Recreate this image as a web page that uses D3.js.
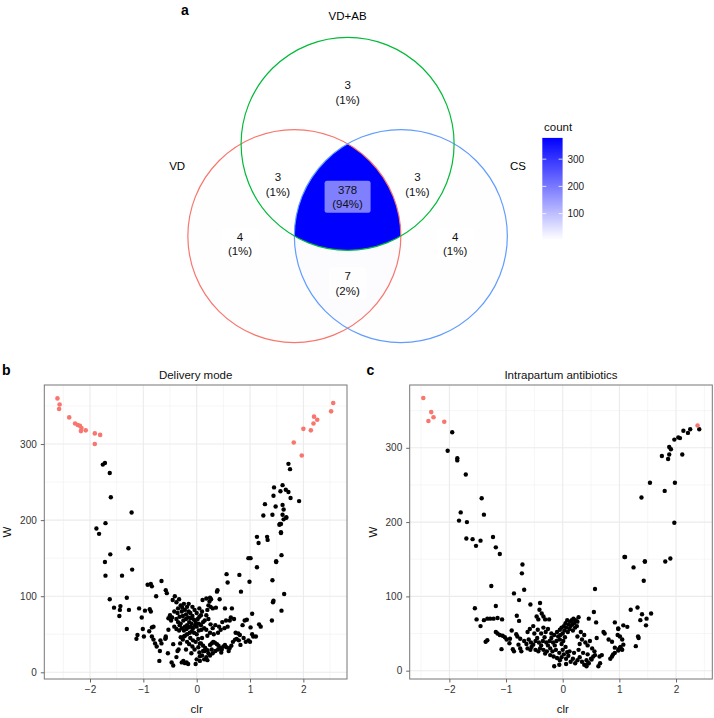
<!DOCTYPE html>
<html><head><meta charset="utf-8">
<script src="https://cdn.jsdelivr.net/npm/d3@7"></script>
<style>body{margin:0;background:#fff}svg{display:block;font-family:"Liberation Sans",Arial,Helvetica,sans-serif}</style>
</head><body>
<svg id="chart" width="714" height="718"></svg>
<script>
// ---------------- DATA ----------------
const vennSets = ["VD+AB", "VD", "CS"];
const regionSets = [["VD+AB"], ["VD"], ["CS"], ["VD","VD+AB"], ["VD+AB","CS"], ["VD","CS"], ["VD","VD+AB","CS"]];
const regionCounts = [3, 4, 4, 3, 3, 7, 378];
const regionPcts = ["1%", "1%", "1%", "1%", "1%", "2%", "94%"];
const legendTicks = [100, 200, 300];

const xTicks = [-2, -1, 0, 1, 2];
const yTicks = [0, 100, 200, 300];

// Panel b: Delivery mode  [clr, W]
const deliverySig = [[-2.61,360],[-2.57,352],[-2.58,346],[-2.39,335],[-2.28,327],[-2.23,325],[-2.19,324],[-2.16,321],[-2.17,317],[-2.08,318],[-1.91,314],[-1.81,312],[-1.91,300],
[2.56,354],[2.52,343],[2.20,336],[2.26,332],[2.19,327],[2.14,318],[2.00,320],[1.82,302],[1.97,285]];
const deliveryNs = [[-1.76,273],[-1.72,275],[-1.63,262],[-1.61,230],[-1.22,210],[-1.71,196],[-1.88,189],[-1.83,182],[-1.28,163],[-1.62,155],[-1.72,145],
[1.72,274],[1.75,267],[1.45,243],[1.61,246],[1.57,238],[1.67,240],[1.72,237],[1.76,229],[1.44,232],[1.92,225],[1.28,221],[1.48,218],[1.61,220],[1.63,214],[1.25,206],[1.42,207],[1.61,207],[1.68,203],[1.56,195],[1.58,183],[1.13,178],[1.16,170],[1.32,178],[1.33,174],[1.01,150],[1.49,146],[1.59,154],
[-1.71,127],[-1.40,127],[-1.21,135],[-1.63,96],[-1.55,85],[-1.31,98],[-1.43,87],[-1.44,82],[-1.45,74],[-1.27,82],[-1.31,57],[-1.08,84],[-1.03,72],[-0.97,81],[-0.88,83],[-0.86,80],[-1.01,57],[-0.99,47],[-1.11,49],[-1.13,44],[-0.92,115],[-0.86,116],[-0.84,113],[-0.66,120],[-0.76,100],[-0.58,108],[-0.56,104],[-0.41,100],[-0.84,59],[-0.81,60],[-0.89,54],[-0.84,47],[-0.81,43],[-0.78,38],[-0.75,34],[-0.68,42],[-0.66,38],[-0.58,47],[-0.59,44],[-0.69,28],[-0.70,15],[-0.54,25],[-0.44,37],[-0.47,13],[-0.44,9],[-0.28,13],[-0.22,12],[-0.16,11],[-0.36,28],[-0.31,38],[-0.24,47],[-0.02,11],[0.00,17],[0.06,21],[-0.53,56],[-0.58,45],[-0.38,20],[-0.34,30],[-0.25,15],[-0.19,13],
[-0.45,95],[-0.38,92],[-0.33,96],[-0.30,88],[-0.27,85],[-0.24,90],[-0.35,84],[-0.42,80],[-0.28,80],[-0.22,82],[-0.18,86],[-0.15,80],[-0.12,78],[-0.20,76],[-0.26,74],[-0.32,73],[-0.38,70],[-0.46,72],[-0.50,75],[-0.53,71],[-0.48,68],[-0.35,66],[-0.30,64],[-0.25,68],[-0.20,70],[-0.16,72],[-0.11,71],[-0.08,74],[-0.05,69],[-0.02,66],[0.02,70],[0.05,73],[0.08,75],[-0.14,66],[-0.10,64],[-0.18,62],[-0.22,60],[-0.28,58],[-0.33,55],[-0.38,57],[-0.42,60],[-0.24,55],[-0.19,57],[-0.15,59],[-0.11,60],[-0.07,58],[-0.03,62],[0.00,60],[0.04,64],[0.08,62],[0.12,66],[0.15,68],[-0.09,54],[-0.13,52],[-0.18,50],[-0.22,48],[-0.05,52],[0.00,50],[0.04,55],[0.09,56],[0.14,58],[0.18,56],[-0.30,46],[-0.26,43],[-0.12,45],[-0.07,42],[-0.02,40],[0.03,44],[0.06,38],[0.10,45],[-0.18,40],[-0.14,37],[-0.08,34],[-0.04,30],[-0.20,30],[-0.10,25],[-0.32,62],[-0.36,78],[-0.15,90],[-0.08,86],[-0.04,82],[0.00,78],[0.05,84],[0.10,80],
[0.11,95],[0.18,97],[0.25,98],[0.27,96],[0.24,93],[0.22,88],[0.26,86],[0.20,82],[0.30,84],[0.38,106],[0.39,108],[0.43,96],[0.36,85],[0.53,84],[0.56,129],[0.58,118],[0.66,84],[0.64,72],[0.62,68],[0.70,70],[0.55,68],[0.48,66],[0.42,60],[0.35,62],[0.30,58],[0.26,63],[0.22,70],[0.18,75],[0.45,56],[0.52,58],[0.58,60],[0.40,52],[0.32,50],[0.25,52],[0.20,48],
[0.08,38],[0.12,35],[0.16,32],[0.20,29],[0.22,25],[0.25,36],[0.28,38],[0.31,40],[0.34,39],[0.38,37],[0.41,35],[0.44,32],[0.47,30],[0.50,34],[0.53,36],[0.56,33],[0.35,28],[0.30,25],[0.25,22],[0.18,20],[0.14,17],[0.20,16],[0.10,22],[0.15,28],[0.28,30],[0.40,30],[0.46,26],[0.60,28],[0.62,32],[0.65,35],[0.68,40],[0.72,43],[0.75,44],[0.79,42],[0.82,36],[0.73,52],[0.78,51],[0.81,49],[0.05,26],[0.03,33],[0.12,28],[0.06,15],
[0.80,128],[0.83,106],[0.97,150],[0.99,119],[0.94,69],[1.04,77],[1.01,59],[1.04,50],[1.06,47],[1.11,47],[0.97,42],[1.00,40],[1.13,138],[1.17,63],[1.20,60],[1.41,68],[1.43,92],[1.44,94],[1.42,121],[1.49,145],[1.59,81],[1.64,103],[1.58,184],[1.55,194],[1.58,195],[1.63,201],[1.68,204],[0.88,45],[0.92,40],[0.86,62],[0.90,68]];

// Panel c: Intrapartum antibiotics  [clr, W]
const antibioticSig = [[-2.46,367],[-2.32,348],[-2.28,341],[-2.37,336],[-2.09,335],[2.38,330]];
const antibioticNs = [[-1.95,321],[-2.03,296],[-1.86,286],[-1.86,283],[-1.71,264],[-1.43,232],[-1.80,213],[-1.83,202],[-1.69,200],[-1.39,210],[-1.70,178],[-1.59,177],[-1.45,175],[-1.53,168],[-1.23,180],[-1.18,166],[-1.11,157],[-0.71,143],
[2.41,325],[2.25,325],[2.21,320],[2.13,323],[2.07,313],[2.04,314],[1.97,311],[1.88,301],[1.91,298],[1.88,291],[1.86,285],[1.75,289],[2.11,291],[1.54,253],[1.98,253],[1.39,233],[1.80,242],[1.97,199],[1.09,153],[1.45,147],[1.81,147],[1.90,151],
[-1.26,114],[-0.72,131],[-0.68,109],[-1.55,84],[-1.52,69],[-1.45,60],[-1.39,68],[-1.33,70],[-1.28,70],[-1.22,70],[-1.15,71],[-1.07,69],[-1.18,87],[-1.36,39],[-1.33,41],[-1.18,52],[-1.15,50],[-1.11,48],[-1.06,47],[-1.02,45],[-0.99,42],[-0.93,43],[-0.90,54],[-0.82,49],[-0.80,46],[-0.75,43],[-1.08,29],[-0.94,37],[-0.88,29],[-0.78,35],[-0.75,30],[-0.86,26],[-0.73,26],[-0.86,104],[-0.77,95],[-0.81,74],[-0.77,67],[-0.57,89],[-0.40,91],[-0.41,82],[-0.37,77],[-0.34,73],[-0.46,73],[-0.43,69],[-0.31,69],[-0.24,69],[-0.57,28],[-0.43,26],[-0.31,23],[-0.22,21],[-0.16,19],[-0.10,17],[-0.05,14],[-0.15,6],
[-0.68,40],[-0.64,36],[-0.60,42],[-0.56,38],[-0.52,35],[-0.48,40],[-0.45,44],[-0.42,38],[-0.38,34],[-0.35,40],[-0.32,45],[-0.29,38],[-0.26,34],[-0.23,40],[-0.20,44],[-0.17,38],[-0.14,34],[-0.11,40],[-0.08,46],[-0.05,42],[-0.02,36],[0.01,40],[0.04,45],[-0.62,30],[-0.55,32],[-0.48,28],[-0.40,30],[-0.34,28],[-0.28,26],[-0.22,30],[-0.18,26],[-0.12,28],[-0.06,24],[0.00,28],[0.05,32],[0.08,25],[-0.50,50],[-0.44,55],[-0.38,50],[-0.30,52],[-0.26,56],[-0.20,50],[-0.15,48],[-0.10,52],[-0.05,55],[0.00,50],[0.03,54],[0.06,58],[0.09,52],[0.12,56],[0.14,60],[0.17,62],[0.20,64],[0.22,58],[0.18,54],[0.10,62],[0.05,64],[0.02,60],[-0.02,58],[0.13,66],[0.16,68],[0.19,70],[0.23,68],[0.26,66],[0.28,72],[0.25,60],[0.08,68],[-0.04,48],[-0.34,58],[-0.58,56],[-0.52,60],[-0.62,52],
[-0.02,18],[0.02,22],[0.06,16],[0.10,20],[0.14,12],[0.18,16],[0.22,10],[0.26,14],[0.30,18],[0.34,12],[0.38,8],[0.42,14],[0.46,10],[0.50,16],[0.12,26],[0.20,24],[0.28,28],[0.36,24],[0.44,22],[0.06,9],[-0.06,8],
[0.30,36],[0.34,42],[0.38,48],[0.32,52],[0.26,46],[0.40,38],[0.44,34],[0.48,40],[0.46,70],[0.55,79],[0.59,65],[0.60,44],[0.52,30],[0.56,26],[0.57,110],
[0.65,19],[0.57,21],[0.54,19],[0.51,15],[0.66,10],[0.63,6],[0.45,10],[0.42,6],[0.69,21],[0.72,52],[0.74,50],[0.81,42],[0.87,39],[0.92,65],[0.98,56],[1.07,61],[1.14,59],[0.92,31],[0.99,29],[1.01,31],[1.05,28],[0.84,16],[0.87,19],[0.89,22],[0.92,24],[0.98,27],[1.04,29],[0.98,57],[1.01,46],[0.97,48],[1.02,32],[1.07,35],[1.05,42],[1.10,153],[1.20,82],[1.32,85],[1.40,76],[1.37,68],[1.48,70],[1.56,77],[1.47,61],[1.25,139],[1.33,46],[1.34,44],[1.29,33],[1.43,121],[1.45,147]];

// ---------------- DRAW ----------------
const svg = d3.select("#chart");
const FONT = '"Liberation Sans", Arial, Helvetica, sans-serif';

// ===== Venn (panel a) =====
// layout in venn units (radius = 1)
const vennCenters = {"VD+AB": [0, -0.577], "VD": [-0.5, 0.289], "CS": [0.5, 0.289]};
const vennColors = {"VD+AB": "#00BA38", "VD": "#F8766D", "CS": "#619CFF"};
const vennLabelPos = {"VD+AB": [0, -1.78], "VD": [-1.6, -0.37], "CS": [1.6, -0.37]};
const regionLabelPos = [[0,-1.06],[-1.01,0.36],[1.01,0.36],[-0.655,-0.2],[0.655,-0.2],[0,0.73],[0,-0.08]];
const vr = 106.5;
const vx = d3.scaleLinear().domain([-1, 1]).range([347.6 - vr, 347.6 + vr]);
const vy = d3.scaleLinear().domain([-1, 1]).range([205.3 - vr, 205.3 + vr]);
const fillScale = d3.scaleLinear().domain([d3.min(regionCounts), d3.max(regionCounts)]).range(["#FFFFFF", "#0000FF"]).interpolate(d3.interpolateRgb);

const defs = svg.append("defs");
vennSets.forEach((s, i) => {
  defs.append("clipPath").attr("id", "clip" + i)
    .append("circle").attr("cx", vx(vennCenters[s][0])).attr("cy", vy(vennCenters[s][1])).attr("r", vr);
});
const vg = svg.append("g");
function drawRegion(sets, color) {
  // draw first circle, clipped successively by the others
  let g = vg;
  for (let k = 1; k < sets.length; k++) {
    g = g.append("g").attr("clip-path", `url(#clip${vennSets.indexOf(sets[k])})`);
  }
  const c = vennCenters[sets[0]];
  g.append("circle").attr("cx", vx(c[0])).attr("cy", vy(c[1])).attr("r", vr).attr("fill", color);
}
// singles first, then pairs, then triple (layered)
const order = regionSets.map((s, i) => i).sort((a, b) => regionSets[a].length - regionSets[b].length);
order.forEach(i => drawRegion(regionSets[i], fillScale(regionCounts[i])));
// outlines
["VD", "CS", "VD+AB"].forEach(s => {
  vg.append("circle").attr("cx", vx(vennCenters[s][0])).attr("cy", vy(vennCenters[s][1])).attr("r", vr)
    .attr("fill", "none").attr("stroke", vennColors[s]).attr("stroke-width", 1.2);
});
// set names
vennSets.forEach(s => {
  vg.append("text").attr("x", vx(vennLabelPos[s][0])).attr("y", vy(vennLabelPos[s][1]) + 4.2)
    .attr("text-anchor", "middle").attr("font-size", 11.5).attr("fill", "#000").text(s);
});
// region labels
regionSets.forEach((s, i) => {
  const cx = vx(regionLabelPos[i][0]), cy = vy(regionLabelPos[i][1]);
  const w = regionCounts[i] >= 100 ? 46 : 38;
  vg.append("rect").attr("x", cx - w / 2).attr("y", cy - 16).attr("width", w).attr("height", 32)
    .attr("rx", 2.5).attr("fill", "#fff").attr("fill-opacity", 0.5);
  vg.append("text").attr("x", cx).attr("y", cy - 3).attr("text-anchor", "middle")
    .attr("font-size", 11.5).attr("fill", "#111").text(regionCounts[i]);
  vg.append("text").attr("x", cx).attr("y", cy + 11.5).attr("text-anchor", "middle")
    .attr("font-size", 11.5).attr("fill", "#111").text(`(${regionPcts[i]})`);
});
svg.append("text").attr("x", 181).attr("y", 15).attr("font-size", 14).attr("font-weight", "bold").text("a");

// legend
const lg = svg.append("g");
const grad = defs.append("linearGradient").attr("id", "cgrad").attr("x1", 0).attr("y1", 1).attr("x2", 0).attr("y2", 0);
d3.range(0, 1.01, 0.1).forEach(t => grad.append("stop").attr("offset", t).attr("stop-color", d3.interpolateRgb("#FFFFFF", "#0000FF")(t)));
const ly = d3.scaleLinear().domain([d3.min(regionCounts), d3.max(regionCounts)]).range([240.1, 137.9]);
const lx0 = 542.3, lw = 20.3;
lg.append("rect").attr("x", lx0).attr("y", ly(d3.max(regionCounts))).attr("width", lw)
  .attr("height", ly(d3.min(regionCounts)) - ly(d3.max(regionCounts))).attr("fill", "url(#cgrad)");
legendTicks.forEach(t => {
  lg.append("line").attr("x1", lx0).attr("x2", lx0 + 4).attr("y1", ly(t)).attr("y2", ly(t)).attr("stroke", "#fff").attr("stroke-width", 0.8);
  lg.append("line").attr("x1", lx0 + lw - 4).attr("x2", lx0 + lw).attr("y1", ly(t)).attr("y2", ly(t)).attr("stroke", "#fff").attr("stroke-width", 0.8);
  lg.append("text").attr("x", 567.5).attr("y", ly(t) + 3.6).attr("font-size", 10).attr("fill", "#222").text(t);
});
lg.append("text").attr("x", 544).attr("y", 130.5).attr("font-size", 11.5).attr("fill", "#111").text("count");

// ===== Scatter panels =====
function scatter(opt) {
  const {left, right, top, bottom, xDom, yDom, sig, ns, title, letter, letterX, yLabX} = opt;
  const g = svg.append("g");
  const x = d3.scaleLinear().domain(xDom).range([left, right]);
  const y = d3.scaleLinear().domain(yDom).range([bottom, top]);
  const xMinor = d3.range(-2.5, 2.51, 1), yMinor = [50, 150, 250, 350];
  g.selectAll(".vmin").data(xMinor.filter(v => x(v) > left && x(v) < right)).join("line")
    .attr("x1", d => x(d)).attr("x2", d => x(d)).attr("y1", top).attr("y2", bottom).attr("stroke", "#F0F0F0").attr("stroke-width", 0.6);
  g.selectAll(".hmin").data(yMinor.filter(v => y(v) > top && y(v) < bottom)).join("line")
    .attr("y1", d => y(d)).attr("y2", d => y(d)).attr("x1", left).attr("x2", right).attr("stroke", "#F0F0F0").attr("stroke-width", 0.6);
  g.selectAll(".vmaj").data(xTicks).join("line")
    .attr("x1", d => x(d)).attr("x2", d => x(d)).attr("y1", top).attr("y2", bottom).attr("stroke", "#EBEBEB").attr("stroke-width", 1.1);
  g.selectAll(".hmaj").data(yTicks).join("line")
    .attr("y1", d => y(d)).attr("y2", d => y(d)).attr("x1", left).attr("x2", right).attr("stroke", "#EBEBEB").attr("stroke-width", 1.1);

  g.append("g").selectAll("circle").data(ns).join("circle")
    .attr("cx", d => x(d[0])).attr("cy", d => y(d[1])).attr("r", 2.2).attr("fill", "#000");
  g.append("g").selectAll("circle").data(sig).join("circle")
    .attr("cx", d => x(d[0])).attr("cy", d => y(d[1])).attr("r", 2.3).attr("fill", "#F8766D");

  g.append("rect").attr("x", left).attr("y", top).attr("width", right - left).attr("height", bottom - top)
    .attr("fill", "none").attr("stroke", "#777").attr("stroke-width", 1);

  const xa = g.append("g").attr("transform", `translate(0,${bottom})`)
    .call(d3.axisBottom(x).tickValues(xTicks).tickSize(3.5).tickPadding(3).tickFormat(d => d3.format("")(d).replace("-", "\u2212")));
  const ya = g.append("g").attr("transform", `translate(${left},0)`)
    .call(d3.axisLeft(y).tickValues(yTicks).tickSize(3.5).tickPadding(4).tickFormat(d3.format("d")));
  [xa, ya].forEach(a => {
    a.select(".domain").remove();
    a.selectAll("line").attr("stroke", "#666");
    a.selectAll("text").attr("font-size", 10).attr("fill", "#333").attr("font-family", FONT);
  });

  g.append("text").attr("x", (left + right) / 2).attr("y", 378.5).attr("text-anchor", "middle").attr("font-size", 11.5).attr("fill", "#111").text(title);
  g.append("text").attr("x", x(0)).attr("y", 713).attr("text-anchor", "middle").attr("font-size", 11.5).attr("fill", "#111").text("clr");
  g.append("text").attr("transform", `translate(${yLabX},${(top + bottom) / 2}) rotate(-90)`).attr("text-anchor", "middle").attr("font-size", 11.5).attr("fill", "#111").text("W");
  g.append("text").attr("x", letterX).attr("y", 375).attr("font-size", 14).attr("font-weight", "bold").text(letter);
}

scatter({left: 44.3, right: 347, top: 385, bottom: 679, xDom: [-2.857, 2.818], yDom: [-8.8, 377.6],
  sig: deliverySig, ns: deliveryNs, title: "Delivery mode", letter: "b", letterX: 2, yLabX: 11});
scatter({left: 409.7, right: 712.3, top: 385, bottom: 679, xDom: [-2.70, 2.64], yDom: [-11.2, 384.5],
  sig: antibioticSig, ns: antibioticNs, title: "Intrapartum antibiotics", letter: "c", letterX: 366.5, yLabX: 376.5});
</script>
</body></html>
